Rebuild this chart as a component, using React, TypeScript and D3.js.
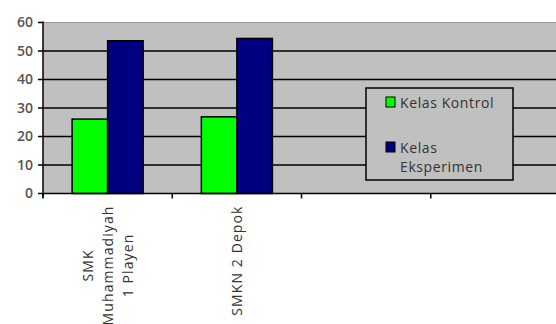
import React, { useEffect, useRef } from 'react';
import * as d3 from 'd3';

const categories = ['SMK Muhammadiyah 1 Playen', 'SMKN 2 Depok'];
const categoryLines = [['SMK', 'Muhammadiyah', '1 Playen'], ['SMKN 2 Depok']];
const series = ['Kelas Kontrol', 'Kelas Eksperimen'];
const kontrol = [26.1, 26.9];
const eksperimen = [53.6, 54.4];
const yTicks = [0, 10, 20, 30, 40, 50, 60];
const colors = ['#00ff00', '#000080'];

function App() {
    const chartRef = useRef<HTMLDivElement>(null);

    useEffect(() => {
        document.body.style.margin = '0';
        const root = d3.select(chartRef.current);
        root.selectAll('*').remove();

        const W = 556, H = 324;
        const left = 43, right = 560, top = 22.5, bottom = 193.5;
        const textColor = '#333';
        const font = '"Open Sans", sans-serif';

        const svg = root.append('svg')
            .attr('width', W)
            .attr('height', H)
            .style('display', 'block')
            .style('background', '#fff');

        // two empty slots to the right, as in the original sheet
        const x = d3.scaleBand<string>()
            .domain([...categories, 'empty1', 'empty2'])
            .range([left, right])
            .paddingInner(0)
            .paddingOuter(0);

        const x1 = d3.scaleBand<string>()
            .domain(series)
            .range([0, x.bandwidth()])
            .paddingInner(0)
            .paddingOuter(0.82);

        const y = d3.scaleLinear().domain([0, 60]).range([bottom, top]);

        // plot area
        svg.append('rect')
            .attr('x', left)
            .attr('y', top)
            .attr('width', W - left)
            .attr('height', bottom - top)
            .attr('fill', '#c0c0c0');

        svg.append('line')
            .attr('x1', left).attr('x2', W)
            .attr('y1', top).attr('y2', top)
            .attr('stroke', '#9a9a9a')
            .attr('stroke-width', 1);

        svg.selectAll('line.grid')
            .data(yTicks.filter(d => d > 0 && d < 60))
            .enter()
            .append('line')
            .attr('class', 'grid')
            .attr('x1', left).attr('x2', W)
            .attr('y1', d => y(d)).attr('y2', d => y(d))
            .attr('stroke', '#000')
            .attr('stroke-width', 1.5);

        // bars
        const values = [kontrol, eksperimen];
        const groups = svg.selectAll('g.cat')
            .data(categories)
            .enter()
            .append('g')
            .attr('class', 'cat')
            .attr('transform', d => `translate(${x(d)},0)`);

        groups.selectAll('rect')
            .data((d, i) => series.map((s, j) => ({ s, v: values[j][i], j })))
            .enter()
            .append('rect')
            .attr('x', d => x1(d.s)!)
            .attr('y', d => y(d.v))
            .attr('width', x1.bandwidth())
            .attr('height', d => bottom - y(d.v))
            .attr('fill', d => colors[d.j])
            .attr('stroke', '#000')
            .attr('stroke-width', 1.5);

        // y axis
        svg.append('line')
            .attr('x1', left).attr('x2', left)
            .attr('y1', top - 1).attr('y2', bottom + 4)
            .attr('stroke', '#000')
            .attr('stroke-width', 1.5);

        const yt = svg.selectAll('g.ytick')
            .data(yTicks)
            .enter()
            .append('g')
            .attr('class', 'ytick')
            .attr('transform', d => `translate(0,${y(d)})`);
        yt.append('line')
            .attr('x1', left - 5).attr('x2', left)
            .attr('stroke', '#000')
            .attr('stroke-width', 1.5);
        yt.append('text')
            .attr('x', left - 10)
            .attr('dy', '0.35em')
            .attr('text-anchor', 'end')
            .attr('font-family', font)
            .attr('font-size', 14)
            .attr('font-weight', 600)
            .attr('fill', '#555')
            .text(d => d);

        // x axis
        svg.append('line')
            .attr('x1', left).attr('x2', W)
            .attr('y1', bottom).attr('y2', bottom)
            .attr('stroke', '#000')
            .attr('stroke-width', 1.5);

        svg.selectAll('line.xtick')
            .data(x.domain())
            .enter()
            .append('line')
            .attr('class', 'xtick')
            .attr('x1', d => x(d)!).attr('x2', d => x(d)!)
            .attr('y1', bottom).attr('y2', bottom + 5)
            .attr('stroke', '#000')
            .attr('stroke-width', 1.5);

        // category labels, rotated, anchored at the axis
        categories.forEach((c, i) => {
            const lines = categoryLines[i];
            const cx = x(c)! + x.bandwidth() / 2;
            const g = svg.append('g');
            const texts = g.selectAll('text')
                .data(lines)
                .enter()
                .append('text')
                .attr('text-anchor', 'middle')
                .attr('font-family', font)
                .attr('font-size', 14)
                .attr('letter-spacing', 1.1)
                .attr('fill', textColor)
                .text(d => d);
            let maxLen = 0;
            texts.each(function () {
                maxLen = Math.max(maxLen, (this as SVGTextElement).getComputedTextLength());
            });
            const cy = bottom + 12 + maxLen / 2;
            texts.attr('transform', (d, k) => {
                const lx = cx + (k - (lines.length - 1) / 2) * 20 + 5;
                return `translate(${lx},${cy}) rotate(-90)`;
            });
        });

        // legend
        const lg = svg.append('g');
        lg.append('rect')
            .attr('x', 366).attr('y', 88)
            .attr('width', 147).attr('height', 92)
            .attr('fill', '#c0c0c0')
            .attr('stroke', '#000')
            .attr('stroke-width', 1.5);

        const legendItems = [
            { lines: ['Kelas Kontrol'], y: 97 },
            { lines: ['Kelas', 'Eksperimen'], y: 142 },
        ];
        legendItems.forEach((it, i) => {
            lg.append('rect')
                .attr('x', 386).attr('y', it.y)
                .attr('width', 9).attr('height', 10)
                .attr('fill', colors[i])
                .attr('stroke', '#000')
                .attr('stroke-width', 1);
            it.lines.forEach((l, k) => {
                lg.append('text')
                    .attr('x', 400)
                    .attr('y', it.y + 11 + k * 19)
                    .attr('font-family', font)
                    .attr('font-size', 14)
                    .attr('letter-spacing', 0.6)
                    .attr('fill', textColor)
                    .text(l);
            });
        });
    }, []);

    return <div ref={chartRef}></div>;
}

export default App;
